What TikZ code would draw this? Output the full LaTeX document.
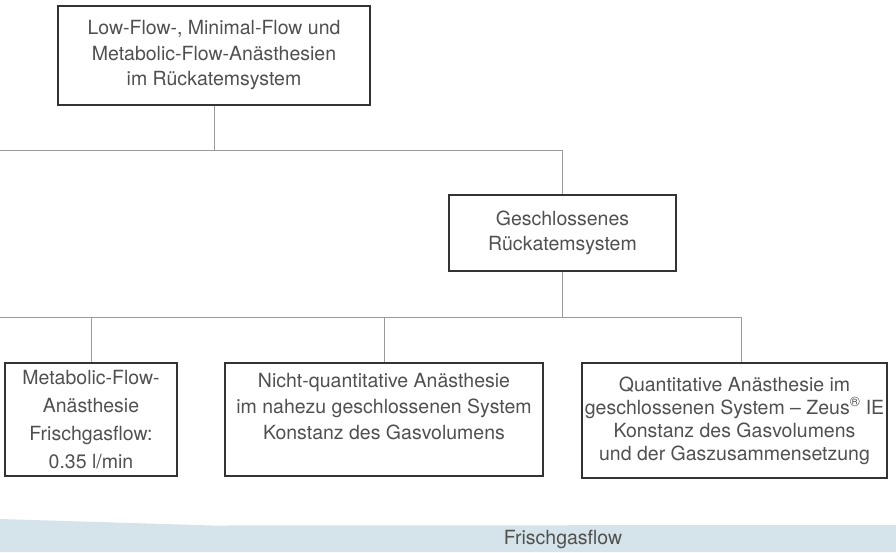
\documentclass[tikz,border=0pt]{standalone}
\usepackage{fontspec}
\setmainfont{TeX Gyre Heros}
\usetikzlibrary{positioning}
\definecolor{boxline}{HTML}{333333}
\definecolor{txtgray}{HTML}{505050}
\definecolor{linkgray}{HTML}{9A9A9A}
\definecolor{bandblue}{HTML}{D5E3EA}

\begin{document}
\begin{tikzpicture}[
    x=1pt, y=-1pt,
    box/.style={draw=boxline, line width=1.1pt, inner sep=0pt, align=center, text=txtgray, font=\fontsize{19.5}{25.5}\selectfont},
    link/.style={draw=linkgray, line width=1pt},
  ]
  \useasboundingbox (0,0) rectangle (896,552);

  % Frischgasflow band
  \fill[bandblue] (0,519) -- (213,525.5) -- (896,525) -- (896,552) -- (0,552) -- cycle;
  \node[text=txtgray, font=\fontsize{19.5}{25}\selectfont] (fgf) at (563,539) {Frischgasflow};

  % Boxes
  \node[box, minimum width=312pt, minimum height=99pt] (top) at (214,55.5) {Low-Flow-, Minimal-Flow und\\Metabolic-Flow-Anästhesien\\im Rückatemsystem};
  \node[box, minimum width=227pt, minimum height=76pt] (geschl) at (562.5,233) {Geschlossenes\\Rückatemsystem};
  \node[box, minimum width=172pt, minimum height=113pt, font=\fontsize{19.5}{28}\selectfont] (metab) at (91,419.5) {Metabolic-Flow-\\Anästhesie\\Frischgasflow:\\0.35 l/min};
  \node[box, minimum width=318pt, minimum height=113pt, font=\fontsize{19.5}{26}\selectfont] (nquant) at (384,419.5) {Nicht-quantitative Anästhesie\\im nahezu geschlossenen System\\Konstanz des Gasvolumens\\[-8pt]\strut};
  \node[box, minimum width=305pt, minimum height=115pt, font=\fontsize{19.5}{23}\selectfont] (quant) at (734.5,420.5) {Quantitative Anästhesie im\\geschlossenen System – Zeus\textsuperscript{®} IE\\Konstanz des Gasvolumens\\und der Gaszusammensetzung};

  % Connectors
  \coordinate (busA) at (0,150);
  \coordinate (busB) at (0,317);
  \coordinate (dropQ) at (741,317);

  \draw[link] (top.south) -- (top.south |- busA);
  \draw[link] (busA) -- (busA -| geschl.north) -- (geschl.north);
  \draw[link] (geschl.south) -- (geschl.south |- busB);
  \draw[link] (busB) -- (dropQ) -- (dropQ |- quant.north);
  \draw[link] (metab.north |- busB) -- (metab.north);
  \draw[link] (nquant.north |- busB) -- (nquant.north);
\end{tikzpicture}
\end{document}
